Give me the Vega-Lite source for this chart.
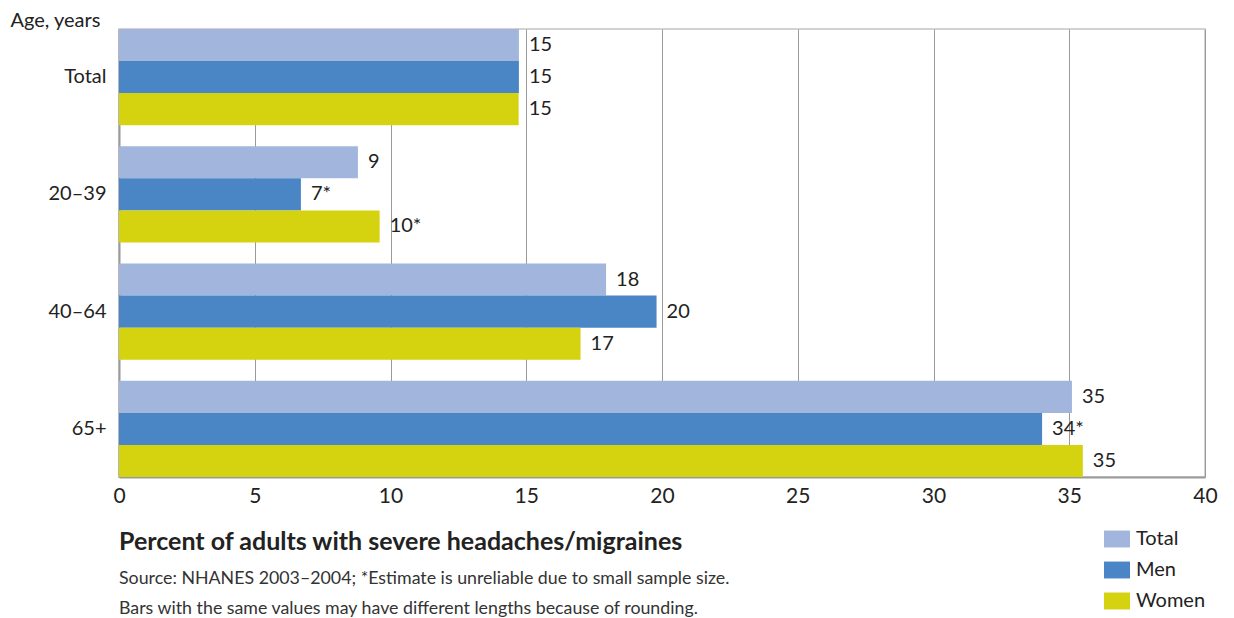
{
  "$schema": "https://vega.github.io/schema/vega-lite/v6.json",
  "autosize": "none",
  "width": 1086,
  "height": 448,
  "padding": {"left": 119, "top": 29, "right": 29, "bottom": 141},
  "background": "white",
  "config": {
    "font": "Lato",
    "view": {"stroke": "#c4c4c4", "strokeWidth": 1.5}
  },
  "title": {
    "text": "Percent of adults with severe headaches/migraines",
    "subtitle": ["Source: NHANES 2003–2004; *Estimate is unreliable due to small sample size.", "Bars with the same values may have different lengths because of rounding."],
    "orient": "top",
    "anchor": "start",
    "frame": "group",
    "offset": -608,
    "font": "Lato",
    "fontSize": 25,
    "fontWeight": "bold",
    "color": "#222222",
    "subtitleFont": "Lato",
    "subtitleFontSize": 17.8,
    "subtitleColor": "#333333",
    "subtitleLineHeight": 30,
    "subtitlePadding": 15
  },
  "data": {
    "values": [
      {"age": "Total", "series": "Total", "value": 14.73, "label": "15"},
      {"age": "Total", "series": "Men", "value": 14.73, "label": "15"},
      {"age": "Total", "series": "Women", "value": 14.72, "label": "15"},
      {"age": "20–39", "series": "Total", "value": 8.8, "label": "9"},
      {"age": "20–39", "series": "Men", "value": 6.7, "label": "7*"},
      {"age": "20–39", "series": "Women", "value": 9.6, "label": "10*"},
      {"age": "40–64", "series": "Total", "value": 17.94, "label": "18"},
      {"age": "40–64", "series": "Men", "value": 19.8, "label": "20"},
      {"age": "40–64", "series": "Women", "value": 17.0, "label": "17"},
      {"age": "65+", "series": "Total", "value": 35.1, "label": "35"},
      {"age": "65+", "series": "Men", "value": 34.0, "label": "34*"},
      {"age": "65+", "series": "Women", "value": 35.5, "label": "35"}
    ]
  },
  "encoding": {
    "y": {
      "field": "age",
      "type": "nominal",
      "sort": ["Total", "20–39", "40–64", "65+"],
      "scale": {"paddingInner": 0.18, "paddingOuter": 0},
      "axis": {
        "title": "Age, years",
        "titleAngle": 0,
        "titleAlign": "left",
        "titleBaseline": "alphabetic",
        "titleX": -109,
        "titleY": -3,
        "titleFont": "Lato",
        "titleFontSize": 20,
        "titleFontWeight": "normal",
        "titleColor": "#222222",
        "labelFont": "Lato",
        "labelFontSize": 20,
        "labelColor": "#222222",
        "labelPadding": 13,
        "ticks": false,
        "domainColor": "#9a9a9a",
        "domainWidth": 2
      }
    },
    "yOffset": {
      "field": "series",
      "type": "nominal",
      "sort": ["Total", "Men", "Women"],
      "scale": {"paddingInner": 0, "paddingOuter": 0}
    },
    "x": {
      "field": "value",
      "type": "quantitative",
      "scale": {"domain": [0, 40], "nice": false},
      "axis": {
        "title": null,
        "values": [0, 5, 10, 15, 20, 25, 30, 35, 40],
        "labelFont": "Lato",
        "labelFontSize": 21,
        "labelColor": "#222222",
        "labelPadding": 8,
        "labelFlush": false,
        "ticks": false,
        "grid": true,
        "gridColor": "#9a9a9a",
        "gridWidth": 1,
        "domainColor": "#9a9a9a",
        "domainWidth": 2
      }
    }
  },
  "layer": [
    {
      "mark": {"type": "bar"},
      "encoding": {
        "color": {
          "field": "series",
          "type": "nominal",
          "sort": ["Total", "Men", "Women"],
          "scale": {"domain": ["Total", "Men", "Women"], "range": ["#a2b6dd", "#4a86c5", "#d5d210"]},
          "legend": {
            "title": null,
            "orient": "none",
            "legendX": 985,
            "legendY": 497,
            "symbolType": "M-1,-0.65H1V0.65H-1Z",
            "symbolSize": 676,
            "symbolStrokeWidth": 0,
            "symbolOpacity": 1,
            "labelFont": "Lato",
            "labelFontSize": 20,
            "labelColor": "#222222",
            "rowPadding": 8,
            "labelOffset": 6
          }
        }
      }
    },
    {
      "mark": {"type": "text", "align": "left", "baseline": "middle", "dx": 10, "fontSize": 20, "font": "Lato", "color": "#222222"},
      "encoding": {
        "text": {"field": "label"}
      }
    }
  ]
}
